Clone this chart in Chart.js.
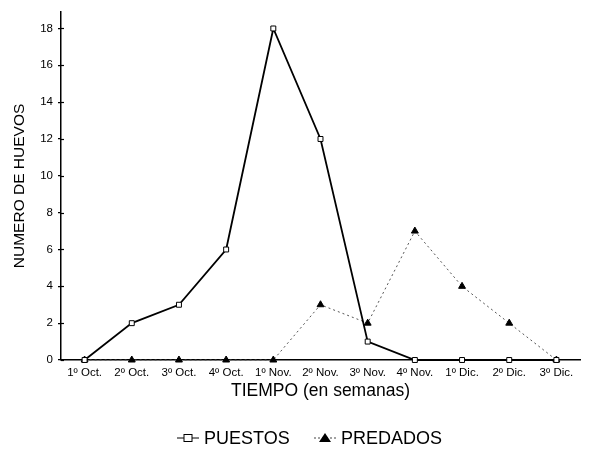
<!DOCTYPE html>
<html>
<head>
<meta charset="utf-8">
<script src="https://cdn.jsdelivr.net/npm/chart.js@4"></script>
<style>
    html, body { margin: 0; padding: 0; background: #fff; }
    #wrap { width: 589px; height: 449px; }
</style>
</head>
<body>
<div id="wrap"><canvas id="chart" width="589" height="449"></canvas></div>
<script>
// semanas
const semanas = ["1º Oct.", "2º Oct.", "3º Oct.", "4º Oct.", "1º Nov.", "2º Nov.", "3º Nov.", "4º Nov.", "1º Dic.", "2º Dic.", "3º Dic."];
// huevos puestos / predados
const puestos = [0, 2, 3, 6, 18, 12, 1, 0, 0, 0, 0];
const predados = [0, 0, 0, 0, 0, 3, 2, 7, 4, 2, 0];
const yTicks = [0, 2, 4, 6, 8, 10, 12, 14, 16, 18];

const FONT = "'Liberation Sans', Arial, Helvetica, sans-serif";

// marcas de eje en cruz (lado interior)
const crossTicks = {
    id: "crossTicks",
    afterDraw(chart) {
        const ctx = chart.ctx;
        const y = chart.scales.y;
        ctx.save();
        ctx.strokeStyle = "#000";
        ctx.lineWidth = 1.2;
        y.ticks.forEach(t => {
            const py = Math.round(y.getPixelForValue(t.value)) + 0.5;
            ctx.beginPath();
            ctx.moveTo(y.right, py);
            ctx.lineTo(y.right + 3, py);
            ctx.stroke();
        });
        ctx.restore();
    }
};

// leyenda con línea + marcador
const legendaLinea = {
    id: "legendaLinea",
    afterDraw(chart) {
        const ctx = chart.ctx;
        const items = [
            { text: "PUESTOS", x: 177, dash: [], color: "#000", marker: "rect" },
            { text: "PREDADOS", x: 314, dash: [2, 2], color: "#444", marker: "triangle" }
        ];
        const y = 438;
        ctx.save();
        ctx.font = "18px " + FONT;
        ctx.textBaseline = "middle";
        items.forEach(it => {
            ctx.setLineDash(it.dash);
            ctx.strokeStyle = it.color;
            ctx.lineWidth = 1;
            ctx.beginPath();
            ctx.moveTo(it.x, y);
            ctx.lineTo(it.x + 22, y);
            ctx.stroke();
            ctx.setLineDash([]);
            const cx = it.x + 11;
            if (it.marker === "rect") {
                ctx.fillStyle = "#fff";
                ctx.fillRect(cx - 4, y - 3.5, 8, 7);
                ctx.strokeStyle = "#000";
                ctx.strokeRect(cx - 4, y - 3.5, 8, 7);
            } else {
                ctx.fillStyle = "#000";
                ctx.beginPath();
                ctx.moveTo(cx, y - 5);
                ctx.lineTo(cx + 6, y + 4);
                ctx.lineTo(cx - 6, y + 4);
                ctx.closePath();
                ctx.fill();
            }
            ctx.fillStyle = "#000";
            ctx.fillText(it.text, it.x + 27, y + 1);
        });
        ctx.restore();
    }
};

const ctx = document.getElementById("chart").getContext("2d");
new Chart(ctx, {
    type: "line",
    data: {
        labels: semanas,
        datasets: [
            {
                label: "PUESTOS",
                data: puestos,
                borderColor: "#000",
                borderWidth: 1.8,
                pointStyle: "rect",
                pointRadius: 3.5,
                pointBackgroundColor: "#fff",
                pointBorderColor: "#000",
                pointBorderWidth: 1,
                tension: 0,
                clip: false
            },
            {
                label: "PREDADOS",
                data: predados,
                borderColor: "#555",
                borderWidth: 1,
                borderDash: [2, 3],
                pointStyle: "triangle",
                pointRadius: 4,
                pointBackgroundColor: "#000",
                pointBorderColor: "#000",
                pointBorderWidth: 1,
                tension: 0,
                clip: false
            }
        ]
    },
    options: {
        responsive: false,
        animation: false,
        devicePixelRatio: 1,
        layout: { padding: { left: 8, top: 8, right: 9, bottom: 43 } },
        plugins: {
            legend: { display: false },
            tooltip: { enabled: false }
        },
        scales: {
            x: {
                type: "category",
                offset: true,
                grid: { display: false, drawTicks: false },
                border: { display: true, color: "#000", width: 1.5 },
                ticks: {
                    color: "#000",
                    font: { family: FONT, size: 11.5 },
                    padding: 6,
                    maxRotation: 0,
                    autoSkip: false
                },
                title: {
                    display: true,
                    text: "TIEMPO (en semanas)",
                    color: "#000",
                    font: { family: FONT, size: 17.5 },
                    padding: { top: 2, bottom: 4 }
                },
                afterFit(scale) { scale.height = 46; }
            },
            y: {
                min: 0,
                max: 18.9,
                grid: { display: true, drawOnChartArea: false, drawTicks: true, tickLength: 3, color: "#000", lineWidth: 1.2 },
                border: { display: true, color: "#000", width: 1.5 },
                ticks: {
                    color: "#000",
                    font: { family: FONT, size: 11.5 },
                    padding: 5
                },
                afterBuildTicks(axis) {
                    axis.ticks = yTicks.map(v => ({ value: v }));
                },
                title: {
                    display: true,
                    text: "NUMERO DE HUEVOS",
                    color: "#000",
                    font: { family: FONT, size: 15.5 },
                    padding: 2
                },
                afterFit(scale) { scale.width = 53; }
            }
        }
    },
    plugins: [crossTicks, legendaLinea]
});
</script>
</body>
</html>
